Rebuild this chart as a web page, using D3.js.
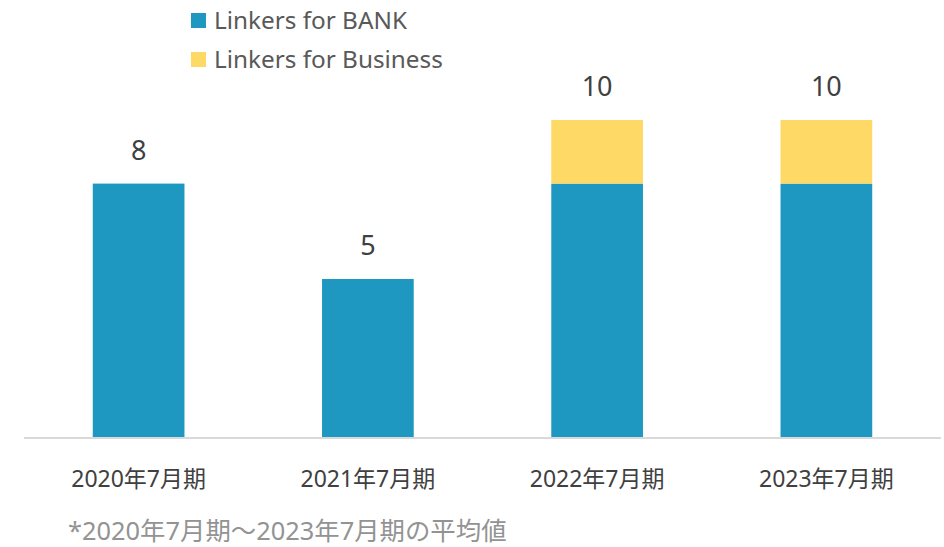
<!DOCTYPE html>
<html>
<head>
<meta charset="utf-8">
<script src="https://cdn.jsdelivr.net/npm/d3@7"></script>
<style>
  html, body { margin: 0; padding: 0; background: #fff; }
  svg { display: block; }
  text { font-family: "Noto Sans", "Noto Sans CJK JP", sans-serif; }
</style>
</head>
<body>
<svg id="chart" width="944" height="547"></svg>
<script>
// Periods on the x axis
const categories = ["2020年7月期", "2021年7月期", "2022年7月期", "2023年7月期"];
// Stacked series
const bankValues = [8, 5, 8, 8];
const businessValues = [0, 0, 2, 2];
const seriesNames = ["Linkers for BANK", "Linkers for Business"];
const seriesColors = ["#1e98c0", "#ffd966"];
const totalLabels = [8, 5, 10, 10];
const footnote = "*2020年7月期～2023年7月期の平均値";

const svg = d3.select("#chart");
const plot = { left: 24, right: 941, top: 120, bottom: 438 };

const rows = categories.map((c, i) => ({ cat: c, bank: bankValues[i], business: businessValues[i], total: totalLabels[i] }));
const stack = d3.stack().keys(["bank", "business"])(rows);

const x = d3.scaleBand().domain(categories).range([plot.left, plot.right]).paddingInner(0.6).paddingOuter(0.3);
const y = d3.scaleLinear().domain([0, 10]).range([plot.bottom, plot.top]);

// Bars
svg.append("g").selectAll("g").data(stack).join("g")
  .attr("fill", (d, i) => seriesColors[i])
  .selectAll("rect").data(d => d.filter(p => p[1] > p[0])).join("rect")
  .attr("x", d => x(d.data.cat))
  .attr("width", x.bandwidth())
  .attr("y", d => y(d[1]))
  .attr("height", d => y(d[0]) - y(d[1]));

// Baseline axis
const axis = svg.append("g").attr("transform", `translate(0,${plot.bottom})`)
  .call(d3.axisBottom(x).tickSize(0).tickPadding(0));
axis.select(".domain").attr("stroke", "#d9d9d9").attr("stroke-width", 2)
  .attr("d", `M${plot.left},0H${plot.right}`);
axis.selectAll(".tick text")
  .attr("dy", null)
  .attr("y", 49)
  .attr("fill", "#404040")
  .style("font-size", "23px")
  .style("font-family", "'Noto Sans', 'Noto Sans CJK JP', sans-serif");

// Total labels above bars
svg.append("g").selectAll("text").data(rows).join("text")
  .attr("x", d => x(d.cat) + x.bandwidth() / 2)
  .attr("y", d => y(d.total) - 24)
  .attr("text-anchor", "middle")
  .attr("fill", "#404040")
  .style("font-size", "27px")
  .text(d => d.total);

// Legend
const legend = svg.append("g");
seriesNames.forEach((name, i) => {
  const gy = 21 + i * 39;
  legend.append("rect").attr("x", 191).attr("y", gy - 8).attr("width", 15).attr("height", 15)
    .attr("fill", seriesColors[i]);
  legend.append("text").attr("x", 214).attr("y", gy + 8)
    .attr("fill", "#595959").style("font-size", "24.3px").text(name);
});

// Footnote
svg.append("text").attr("x", 68).attr("y", 540)
  .attr("fill", "#939393").style("font-size", "25.4px").text(footnote);
</script>
</body>
</html>
